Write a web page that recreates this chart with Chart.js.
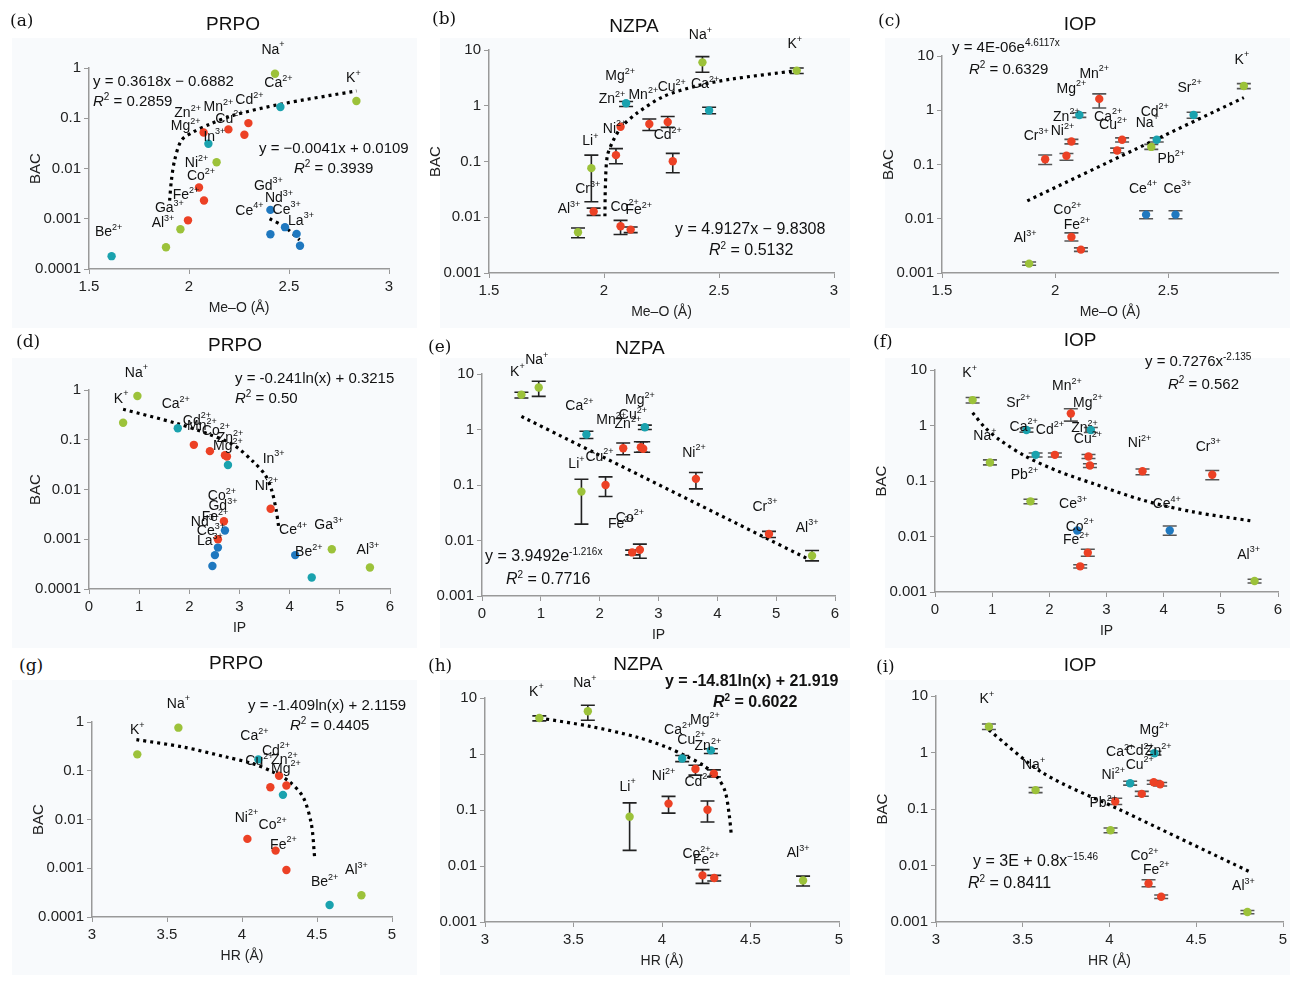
<!DOCTYPE html>
<html>
<head>
<meta charset="utf-8">
<script src="https://cdn.jsdelivr.net/npm/chart.js@4.4.1/dist/chart.umd.min.js"></script>
<style>
  body { margin:0; width:1293px; height:981px; background:#fff; position:relative; overflow:hidden;
         font-family:"Liberation Sans", Arial, sans-serif; color:#111; }
  .bg { position:absolute; background:#f8fafc; }
  canvas { position:absolute; }
  .t { position:absolute; white-space:nowrap; font-size:15px; line-height:16px; }
  .ttl { position:absolute; font-size:19px; transform:translateX(-50%); }
  .let { position:absolute; font-family:"DejaVu Serif","Liberation Serif",serif; font-size:17px; }
  sup { font-size:10px; vertical-align:6px; line-height:0; }
</style>
</head>
<body>
<div class="bg" style="left:12px;top:38px;width:405px;height:290px"></div>
<div class="bg" style="left:440px;top:38px;width:410px;height:290px"></div>
<div class="bg" style="left:885px;top:38px;width:405px;height:290px"></div>
<div class="bg" style="left:12px;top:358px;width:405px;height:290px"></div>
<div class="bg" style="left:440px;top:358px;width:410px;height:290px"></div>
<div class="bg" style="left:885px;top:358px;width:405px;height:290px"></div>
<div class="bg" style="left:12px;top:680px;width:405px;height:295px"></div>
<div class="bg" style="left:440px;top:680px;width:410px;height:295px"></div>
<div class="bg" style="left:885px;top:680px;width:405px;height:295px"></div>
<div id="wrap"></div>
<script>
// ---------------------------------- DATA ----------------------------------
// colour keys: g = green, t = teal, r = red, b = blue

// (a) PRPO vs Me-O
const aX = [2.43,2.837,2.457,2.297,2.197,2.277,2.073,2.097,2.138,2.05,2.075,1.995,1.957,1.885,1.613,2.407,2.48,2.538,2.407,2.555]
const aY = [0.77,0.22,0.167,0.080,0.060,0.047,0.052,0.031,0.0133,0.0042,0.0023,0.00093,0.00062,0.00027,0.00018,0.0015,0.00068,0.0005,0.00049,0.00029]
const aC = ['g','g','t','r','r','r','r','t','g','r','r','r','g','g','t','b','b','b','b','b']
const aTrendX = [1.903,1.912,1.928,1.962,2.02,2.103,2.22,2.453,2.837]
const aTrendY = [0.0023,0.0058,0.0146,0.0363,0.053,0.076,0.114,0.189,0.35]
const aTrend2X = [2.403,2.478,2.553]
const aTrend2Y = [0.001,0.00069,0.00038]
const aLabels = [['Na+',0],['K+',1],['Ca2+',2],['Cd2+',3],['Mn2+',4],['Zn2+',6],['Cu2+',5],['Mg2+',6],['In3+',7],['Ni2+',8],['Co2+',9],['Fe2+',10],['Ga3+',12],['Al3+',13],['Be2+',14],['Gd3+',15],['Nd3+',16],['Ce4+',15],['Ce3+',17],['La3+',19]]
const aLabelOffsets = [[-2,-24],[-3,-23],[-2,-24],[1,-23],[-10,-22],[-16,-19],[-15,-16],[-18,-6],[6,-7],[-20,1],[2,-11],[-18,-5],[-11,-21],[-3,-24],[-3,-24],[-2,-24],[-6,-29],[-21,1],[-10,-24],[1,-25]]

// (b) NZPA vs Me-O
const bX = [2.428,2.838,2.096,2.457,2.277,2.197,2.072,2.052,2.299,1.945,1.955,1.887,2.072,2.116]
const bY = [6.0,4.27,1.11,0.82,0.51,0.47,0.42,0.13,0.101,0.076,0.0127,0.0054,0.0069,0.006]
const bLo = [4.0,3.8,0.97,0.72,0.41,0.36,0.42,0.091,0.063,0.019,0.0108,0.0043,0.0049,0.0053]
const bHi = [7.6,4.76,1.19,0.94,0.64,0.58,0.42,0.17,0.14,0.13,0.0146,0.0064,0.0088,0.0067]
const bC = ['g','g','t','t','r','r','r','r','r','g','r','g','r','r']
const bTrendX = [2.004,2.006,2.014,2.038,2.077,2.142,2.258,2.403,2.548,2.838]
const bTrendY = [0.0104,0.0357,0.123,0.228,0.42,0.73,1.46,2.27,2.98,4.27]
const bLabels = [['Na+',0],['K+',1],['Mg2+',2],['Zn2+',2],['Mn2+',5],['Cu2+',4],['Ca2+',3],['Ni2+',6],['Cd2+',4],['Li+',9],['Cr3+',10],['Al3+',11],['Co2+',12],['Fe2+',13]]
const bLabelOffsets = [[-2,-27],[-2,-26],[-6,-27],[-14,-4],[-6,-29],[4,-35],[-4,-26],[-6,2],[0,13],[-1,-27],[-6,-22],[-9,-23],[4,-19],[8,-19]]

// (c) IOP vs Me-O
const cX = [2.834,2.612,2.195,2.107,2.072,2.05,1.956,2.296,2.274,2.449,2.425,2.402,2.532,2.072,2.114,1.885]
const cY = [2.8,0.82,1.62,0.82,0.265,0.145,0.125,0.285,0.181,0.285,0.211,0.0119,0.0119,0.0046,0.0027,0.00149]
const cLo = [2.5,0.71,1.1,0.74,0.24,0.12,0.1,0.26,0.165,0.26,0.19,0.01,0.01,0.0039,0.0025,0.00139]
const cHi = [3.1,0.92,2.0,0.9,0.29,0.16,0.15,0.31,0.2,0.31,0.235,0.014,0.014,0.0055,0.0029,0.0016]
const cC = ['g','t','r','t','r','r','r','r','r','t','g','b','b','r','r','g']
const cTrendX = [1.877,2.355,2.834]
const cTrendY = [0.0214,0.191,1.71]
const cLabels = [['K+',0],['Sr2+',1],['Mn2+',2],['Mg2+',3],['Zn2+',3],['Ca2+',7],['Cu2+',8],['Cd2+',9],['Na+',10],['Pb2+',10],['Cr3+',6],['Ni2+',4],['Ce4+',11],['Ce3+',12],['Co2+',13],['Fe2+',14],['Al3+',15]]
const cLabelOffsets = [[-2,-26],[-4,-27],[-5,-25],[-8,-26],[-13,2],[-14,-23],[-4,-25],[-2,-28],[-4,-24],[20,12],[-9,-23],[-9,-10],[-3,-26],[2,-26],[-4,-27],[-4,-24],[-4,-25]]

// (d) PRPO vs IP
const dX = [0.965,0.68,1.77,2.09,2.41,2.71,2.75,2.77,3.62,2.69,2.71,2.57,2.57,2.51,2.46,4.11,4.84,4.44,5.6]
const dY = [0.76,0.22,0.17,0.079,0.059,0.049,0.046,0.031,0.0041,0.0023,0.0015,0.001,0.00068,0.00048,0.00029,0.00048,0.00063,0.00017,0.00027]
const dC = ['g','g','t','r','r','r','r','t','r','r','b','r','b','b','b','b','g','t','g']
const dTrendX = [0.68,1.74,2.34,2.88,3.27,3.51,3.64,3.73,3.78]
const dTrendY = [0.41,0.214,0.135,0.079,0.0365,0.0197,0.0098,0.0039,0.0018]
const dLabels = [['Na+',0],['K+',1],['Ca2+',2],['Cd2+',3],['Mn2+',4],['Co2+',5],['Zn2+',6],['Mg2+',7],['In3+',8],['Ni2+',8],['Co2+',9],['Gd3+',10],['Fe2+',10],['Nd3+',11],['Ce3+',12],['La3+',13],['Ce4+',15],['Ga3+',16],['Be2+',17],['Al3+',18]]
const dLabelOffsets = [[-1,-23],[-2,-24],[-2,-24],[3,-24],[-8,-25],[-9,-24],[3,-18],[0,-19],[3,-50],[-4,-23],[-2,-25],[-2,-24],[-10,-13],[-13,-17],[-7,-16],[-5,-14],[-2,-25],[-3,-24],[-3,-25],[-2,-17]]

// (e) NZPA vs IP
const eX = [0.67,0.964,1.775,2.768,2.4,2.70,2.74,2.1,1.69,3.636,4.878,5.61,2.553,2.683]
const eY = [4.24,5.7,0.815,1.1,0.46,0.48,0.45,0.1,0.076,0.129,0.0131,0.0053,0.0061,0.0068]
const eLo = [3.7,3.95,0.69,1.0,0.35,0.39,0.39,0.062,0.0197,0.085,0.0113,0.0043,0.0055,0.0048]
const eHi = [4.7,7.4,0.93,1.2,0.57,0.6,0.6,0.14,0.127,0.168,0.0146,0.0066,0.0067,0.0086]
const eC = ['g','g','t','t','r','r','r','r','g','r','r','g','r','r']
const eTrendX = [0.67,5.55]
const eTrendY = [1.72,0.0046]
const eLabels = [['K+',0],['Na+',1],['Ca2+',2],['Mg2+',3],['Cu2+',3],['Mn2+',4],['Zn2+',5],['Li+',8],['Cu2+',7],['Ni2+',9],['Cr3+',10],['Al3+',11],['Co2+',13],['Fe2+',12]]
const eLabelOffsets = [[-4,-23],[-2,-27],[-7,-28],[-5,-27],[-12,-12],[-12,-28],[-13,-23],[-5,-27],[-6,-28],[-2,-26],[-4,-27],[-5,-28],[-10,-32],[-11,-28]]

// (f) IOP vs IP
const fX = [0.658,0.961,1.67,1.60,1.76,2.726,2.376,2.097,2.685,2.71,3.63,4.85,4.106,2.487,2.673,2.54,5.59]
const fY = [2.87,0.216,0.043,0.83,0.296,0.83,1.65,0.296,0.277,0.19,0.15,0.13,0.0128,0.0128,0.0051,0.0029,0.00158]
const fLo = [2.55,0.195,0.039,0.76,0.27,0.75,1.2,0.27,0.255,0.175,0.13,0.105,0.0105,0.0128,0.0044,0.0027,0.00145]
const fHi = [3.2,0.24,0.047,0.9,0.32,0.92,2.0,0.32,0.3,0.205,0.165,0.155,0.0155,0.0128,0.0059,0.0031,0.0017]
const fC = ['g','g','g','t','t','t','r','r','r','r','r','r','b','b','r','r','g']
const fTrendX = [0.658,0.874,1.136,1.60,2.184,2.766,3.64,4.514,5.533]
const fTrendY = [1.70,0.92,0.546,0.273,0.146,0.090,0.045,0.0278,0.0191]
const fLabels = [['K+',0],['Sr2+',3],['Ca2+',4],['Na+',1],['Pb2+',2],['Mn2+',6],['Mg2+',5],['Cd2+',7],['Zn2+',8],['Cu2+',9],['Ni2+',10],['Cr3+',11],['Ce3+',13],['Co2+',14],['Fe2+',15],['Ce4+',12],['Al3+',16]]
const fLabelOffsets = [[-3,-27],[-8,-27],[-12,-28],[-5,-26],[-6,-26],[-4,-27],[-3,-27],[-5,-25],[-4,-28],[-2,-26],[-3,-28],[-4,-28],[-4,-26],[-8,-26],[-4,-26],[-3,-26],[-6,-26]]

// (g) PRPO vs HR
const gX = [3.576,3.302,4.109,4.247,4.296,4.189,4.273,4.036,4.224,4.296,4.584,4.796]
const gY = [0.765,0.217,0.171,0.079,0.050,0.046,0.032,0.0040,0.0023,0.00092,0.000176,0.00028]
const gC = ['g','g','t','r','r','r','t','r','r','r','t','g']
const gTrendX = [3.296,3.607,3.896,4.073,4.207,4.318,4.407,4.462,4.484]
const gTrendY = [0.434,0.307,0.191,0.14,0.094,0.059,0.029,0.0082,0.0017]
const gLabels = [['Na+',0],['K+',1],['Ca2+',2],['Cd2+',3],['Cu2+',5],['Zn2+',4],['Mg2+',6],['Ni2+',7],['Co2+',8],['Fe2+',9],['Be2+',10],['Al3+',11]]
const gLabelOffsets = [[0,-24],[0,-24],[-4,-23],[-3,-25],[-11,-26],[-2,-25],[3,-26],[-1,-21],[-3,-25],[-3,-25],[-5,-23],[-5,-25]]

// (h) NZPA vs HR
const hX = [3.307,3.581,4.114,4.276,4.189,4.293,4.037,4.257,3.817,4.229,4.295,4.797]
const hY = [4.4,5.8,0.83,1.16,0.54,0.446,0.13,0.101,0.076,0.0068,0.0061,0.0055]
const hLo = [3.9,4.0,0.73,1.02,0.42,0.39,0.088,0.061,0.019,0.0049,0.0054,0.0044]
const hHi = [4.8,7.4,0.94,1.24,0.63,0.52,0.175,0.145,0.134,0.0086,0.0068,0.0066]
const hC = ['g','g','t','t','r','r','r','r','g','r','r','g']
const hTrendX = [3.307,3.593,3.856,4.025,4.138,4.232,4.308,4.355,4.379,4.392]
const hTrendY = [4.4,3.12,2.01,1.33,0.91,0.63,0.40,0.224,0.086,0.035]
const hLabels = [['K+',0],['Na+',1],['Ca2+',2],['Mg2+',3],['Cu2+',4],['Zn2+',5],['Ni2+',6],['Cd2+',7],['Li+',8],['Co2+',9],['Fe2+',10],['Al3+',11]]
const hLabelOffsets = [[-3,-26],[-3,-28],[-4,-28],[-6,-30],[-4,-29],[-6,-27],[-5,-27],[-9,-28],[-2,-30],[-6,-21],[-8,-18],[-5,-27]]

// (i) IOP vs HR
const iX = [3.305,3.574,4.006,4.033,4.119,4.259,4.255,4.292,4.186,4.225,4.298,4.795]
const iY = [2.87,0.216,0.042,0.136,0.286,0.97,0.298,0.275,0.185,0.0048,0.0028,0.0015]
const iLo = [2.55,0.195,0.038,0.12,0.265,0.9,0.275,0.255,0.168,0.0042,0.0026,0.0014]
const iHi = [3.2,0.24,0.046,0.155,0.31,1.05,0.32,0.295,0.205,0.0056,0.003,0.0016]
const iC = ['g','g','g','r','t','t','r','r','r','r','r','g']
const iTrendX = [3.305,3.618,4.06,4.818]
const iTrendY = [2.5,0.43,0.097,0.0075]
const iLabels = [['K+',0],['Na+',1],['Mg2+',5],['Ca2+',4],['Cd2+',6],['Zn2+',7],['Cu2+',8],['Ni2+',4],['Pb2+',3],['Co2+',9],['Fe2+',10],['Al3+',11]]
const iLabelOffsets = [[-2,-27],[-2,-25],[0,-23],[-10,-31],[-14,-31],[-2,-33],[-2,-29],[-17,-8],[-12,2],[-4,-27],[-5,-27],[-4,-26]]

const meoTicks = [1.5,2,2.5,3]
const meoTicksC = [1.5,2,2.5]
const ipTicks = [0,1,2,3,4,5,6]
const hrTicks = [3,3.5,4,4.5,5]
const prpoYTicks = [0.0001,0.001,0.01,0.1,1]
const otherYTicks = [0.001,0.01,0.1,1,10]

const COLORS = {g:'#9cc23a', t:'#1aa2ae', r:'#ec4125', b:'#1f78bf'}

// ------------------------------- PANELS -----------------------------------
// box: plot area [left, top, right, bottom] in page pixels
const panels = [
  {box:[89,68,389,269], x:aX, y:aY, c:aC, trends:[[aTrendX,aTrendY],[aTrend2X,aTrend2Y]], labels:aLabels, offs:aLabelOffsets,
   xr:[1.5,3], xt:meoTicks, yr:[0.0001,1], yt:prpoYTicks, xTitle:'Me–O (Å)', yTitle:'BAC'},
  {box:[489,50,834,273], x:bX, y:bY, lo:bLo, hi:bHi, c:bC, trends:[[bTrendX,bTrendY]], labels:bLabels, offs:bLabelOffsets,
   xr:[1.5,3], xt:meoTicks, yr:[0.001,10], yt:otherYTicks, xTitle:'Me–O (Å)', yTitle:'BAC', cap:'#222'},
  {box:[942,56,1278,273], x:cX, y:cY, lo:cLo, hi:cHi, c:cC, trends:[[cTrendX,cTrendY]], labels:cLabels, offs:cLabelOffsets,
   xr:[1.5,2.985], xt:meoTicksC, yr:[0.001,10], yt:otherYTicks, xTitle:'Me–O (Å)', yTitle:'BAC', cap:'#555'},
  {box:[89,390,390,589], x:dX, y:dY, c:dC, trends:[[dTrendX,dTrendY]], labels:dLabels, offs:dLabelOffsets,
   xr:[0,6], xt:ipTicks, yr:[0.0001,1], yt:prpoYTicks, xTitle:'IP', yTitle:'BAC'},
  {box:[482,374,835,596], x:eX, y:eY, lo:eLo, hi:eHi, c:eC, trends:[[eTrendX,eTrendY]], labels:eLabels, offs:eLabelOffsets,
   xr:[0,6], xt:ipTicks, yr:[0.001,10], yt:otherYTicks, xTitle:'IP', yTitle:'', cap:'#222'},
  {box:[935,370,1278,592], x:fX, y:fY, lo:fLo, hi:fHi, c:fC, trends:[[fTrendX,fTrendY]], labels:fLabels, offs:fLabelOffsets,
   xr:[0,6], xt:ipTicks, yr:[0.001,10], yt:otherYTicks, xTitle:'IP', yTitle:'BAC', cap:'#555'},
  {box:[92,722,392,917], x:gX, y:gY, c:gC, trends:[[gTrendX,gTrendY]], labels:gLabels, offs:gLabelOffsets,
   xr:[3,5], xt:hrTicks, yr:[0.0001,1], yt:prpoYTicks, xTitle:'HR (Å)', yTitle:'BAC'},
  {box:[485,698,839,922], x:hX, y:hY, lo:hLo, hi:hHi, c:hC, trends:[[hTrendX,hTrendY]], labels:hLabels, offs:hLabelOffsets,
   xr:[3,5], xt:hrTicks, yr:[0.001,10], yt:otherYTicks, xTitle:'HR (Å)', yTitle:'', cap:'#222'},
  {box:[936,696,1283,922], x:iX, y:iY, lo:iLo, hi:iHi, c:iC, trends:[[iTrendX,iTrendY]], labels:iLabels, offs:iLabelOffsets,
   xr:[3,5], xt:hrTicks, yr:[0.001,10], yt:otherYTicks, xTitle:'HR (Å)', yTitle:'BAC', cap:'#555'},
]

const FONT = '"Liberation Sans", Arial, sans-serif'
const YW = 62, XH = 50, PT = 44, PR = 30

function drawIon(ctx, text, cx, cy){
  let m = text.match(/^([A-Z][a-z]?)(.*)$/)
  let base = m[1], sup = m[2]
  ctx.font = '14px ' + FONT
  let w1 = ctx.measureText(base).width
  ctx.font = '9px ' + FONT
  let w2 = ctx.measureText(sup).width
  let x0 = cx - (w1 + w2) / 2
  ctx.fillStyle = '#111'
  ctx.textBaseline = 'middle'
  ctx.textAlign = 'left'
  ctx.font = '14px ' + FONT
  ctx.fillText(base, x0, cy)
  ctx.font = '9px ' + FONT
  ctx.fillText(sup, x0 + w1, cy - 5)
}

const extras = {
  id:'extras',
  beforeDatasetsDraw(chart){
    let p = chart.options.plugins.extras.panel
    if(!p.lo) return
    let ctx = chart.ctx, xs = chart.scales.x, ys = chart.scales.y
    ctx.save()
    ctx.strokeStyle = p.cap
    ctx.lineWidth = 1.6
    for(let k=0;k<p.x.length;k++){
      if(p.lo[k] === p.hi[k]) continue
      let px = xs.getPixelForValue(p.x[k])
      let y1 = ys.getPixelForValue(p.lo[k]), y2 = ys.getPixelForValue(p.hi[k])
      ctx.beginPath()
      ctx.moveTo(px,y1); ctx.lineTo(px,y2)
      ctx.moveTo(px-7,y1); ctx.lineTo(px+7,y1)
      ctx.moveTo(px-7,y2); ctx.lineTo(px+7,y2)
      ctx.stroke()
    }
    ctx.restore()
  },
  afterDatasetsDraw(chart){
    let p = chart.options.plugins.extras.panel
    let ctx = chart.ctx, xs = chart.scales.x, ys = chart.scales.y
    ctx.save()
    p.labels.forEach((l,k)=>{
      let px = xs.getPixelForValue(p.x[l[1]]), py = ys.getPixelForValue(p.y[l[1]])
      drawIon(ctx, l[0], px + p.offs[k][0], py + p.offs[k][1])
    })
    ctx.restore()
  }
}

const wrap = document.getElementById('wrap')
panels.forEach(p=>{
  let [L,T,R,B] = p.box
  let cv = document.createElement('canvas')
  let w = (R-L) + YW + PR, h = (B-T) + PT + XH
  let div = document.createElement('div')
  div.style.cssText = `position:absolute;left:${L-YW}px;top:${T-PT}px;width:${w}px;height:${h}px`
  cv.style.left = '0px'; cv.style.top = '0px'
  cv.style.width = w+'px'; cv.style.height = h+'px'
  div.appendChild(cv)
  wrap.appendChild(div)

  let datasets = [{
    type:'scatter',
    data: p.x.map((v,k)=>({x:v, y:p.y[k]})),
    backgroundColor: p.c.map(k=>COLORS[k]),
    borderWidth:0, pointRadius:4.2, order:1
  }]
  p.trends.forEach(t=>{
    datasets.push({
      type:'line', data:t[0].map((v,k)=>({x:v, y:t[1][k]})),
      borderColor:'#000', borderWidth:3.2, borderDash:[3,4], pointRadius:0,
      fill:false, tension:0.3, order:2
    })
  })

  new Chart(cv, {
    data:{datasets},
    plugins:[extras],
    options:{
      responsive:false, animation:false, maintainAspectRatio:false,
      layout:{padding:{top:PT, right:PR, left:0, bottom:0}},
      plugins:{legend:{display:false}, tooltip:{enabled:false}, extras:{panel:p}},
      scales:{
        x:{
          type:'linear', min:p.xr[0], max:p.xr[1],
          afterBuildTicks: s=>{ s.ticks = p.xt.map(v=>({value:v})) },
          afterFit: s=>{ s.height = XH },
          grid:{drawOnChartArea:false, color:'#999', tickLength:5},
          border:{color:'#999', width:1.5},
          ticks:{color:'#222', font:{size:15, family:FONT}, padding:4, maxRotation:0, autoSkip:false,
                 callback: v=>String(v)},
          title:{display:true, text:p.xTitle, color:'#222', font:{size:14, family:FONT}, padding:{top:0,bottom:2}}
        },
        y:{
          type:'logarithmic', min:p.yr[0], max:p.yr[1],
          afterBuildTicks: s=>{ s.ticks = p.yt.map(v=>({value:v})) },
          afterFit: s=>{ s.width = YW },
          grid:{drawOnChartArea:false, color:'#999', tickLength:5},
          border:{color:'#999', width:1.5},
          ticks:{color:'#222', font:{size:15, family:FONT}, padding:3, autoSkip:false,
                 callback: v=>String(v)},
          title:{display:p.yTitle!=='', text:p.yTitle, color:'#222', font:{size:15, family:FONT}, padding:{top:0,bottom:0}}
        }
      }
    }
  })
})
</script>

<!-- panel letters -->
<div class="let" style="left:10px;top:10px">(a)</div>
<div class="let" style="left:432px;top:8px">(b)</div>
<div class="let" style="left:878px;top:10px">(c)</div>
<div class="let" style="left:16px;top:331px">(d)</div>
<div class="let" style="left:428px;top:336px">(e)</div>
<div class="let" style="left:873px;top:331px">(f)</div>
<div class="let" style="left:19px;top:655px">(g)</div>
<div class="let" style="left:428px;top:655px">(h)</div>
<div class="let" style="left:876px;top:656px">(i)</div>

<!-- titles -->
<div class="ttl" style="left:233px;top:13px">PRPO</div>
<div class="ttl" style="left:634px;top:15px">NZPA</div>
<div class="ttl" style="left:1080px;top:13px">IOP</div>
<div class="ttl" style="left:235px;top:334px">PRPO</div>
<div class="ttl" style="left:640px;top:337px">NZPA</div>
<div class="ttl" style="left:1080px;top:329px">IOP</div>
<div class="ttl" style="left:236px;top:652px">PRPO</div>
<div class="ttl" style="left:638px;top:653px">NZPA</div>
<div class="ttl" style="left:1080px;top:654px">IOP</div>

<!-- fitted equations -->
<div class="t" style="left:93px;top:73px">y = 0.3618x − 0.6882</div>
<div class="t" style="left:93px;top:93px"><i>R</i><sup>2</sup> = 0.2859</div>
<div class="t" style="left:259px;top:140px">y = −0.0041x + 0.0109</div>
<div class="t" style="left:294px;top:160px"><i>R</i><sup>2</sup> = 0.3939</div>

<div class="t" style="left:675px;top:221px;font-size:16px">y = 4.9127x − 9.8308</div>
<div class="t" style="left:709px;top:242px;font-size:16px"><i>R</i><sup>2</sup> = 0.5132</div>

<div class="t" style="left:952px;top:39px">y = 4E-06e<sup>4.6117x</sup></div>
<div class="t" style="left:969px;top:61px"><i>R</i><sup>2</sup> = 0.6329</div>

<div class="t" style="left:235px;top:370px">y = -0.241ln(x) + 0.3215</div>
<div class="t" style="left:235px;top:390px"><i>R</i><sup>2</sup> = 0.50</div>

<div class="t" style="left:485px;top:548px;font-size:16px">y = 3.9492e<sup>-1.216x</sup></div>
<div class="t" style="left:506px;top:571px;font-size:16px"><i>R</i><sup>2</sup> = 0.7716</div>

<div class="t" style="left:1145px;top:353px">y = 0.7276x<sup>-2.135</sup></div>
<div class="t" style="left:1168px;top:376px"><i>R</i><sup>2</sup> = 0.562</div>

<div class="t" style="left:248px;top:697px">y = -1.409ln(x) + 2.1159</div>
<div class="t" style="left:290px;top:717px"><i>R</i><sup>2</sup> = 0.4405</div>

<div class="t" style="left:665px;top:673px;font-size:16px;font-weight:bold">y = -14.81ln(x) + 21.919</div>
<div class="t" style="left:713px;top:694px;font-size:16px;font-weight:bold"><i>R</i><sup>2</sup> = 0.6022</div>

<div class="t" style="left:973px;top:853px;font-size:16px">y = 3E + 0.8x<sup>−15.46</sup></div>
<div class="t" style="left:968px;top:875px;font-size:16px"><i>R</i><sup>2</sup> = 0.8411</div>
</body>
</html>
